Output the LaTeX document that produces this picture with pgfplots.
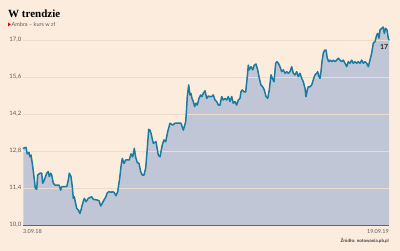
\documentclass[border=0pt]{standalone}
\usepackage{pgfplots}
\pgfplotsset{compat=1.18}
\usepackage{fontspec}
\setmainfont{Lato}
\newfontfamily\titlefont{Liberation Serif}
\definecolor{bg}{RGB}{252,236,222}
\definecolor{fillc}{RGB}{192,198,214}
\definecolor{linec}{RGB}{27,123,160}
\definecolor{gridc}{RGB}{236,220,206}
\definecolor{txt}{RGB}{90,90,90}
\begin{document}
\begin{tikzpicture}[x=1pt,y=1pt]
\fill[bg] (0,0) rectangle (400,251);
\node[anchor=base west,inner sep=0pt,font=\titlefont\bfseries\fontsize{11}{12}\selectfont,text=black] at (8,233) {W trendzie};
\fill[red!85!black] (8,224.5) -- (10.8,226.5) -- (8,228.5) -- cycle;
\node[anchor=base west,inner sep=0pt,font=\fontsize{5.5}{6}\selectfont,text=txt] at (11.5,224.5) {Ambra – kurs w zł};
\begin{axis}[
  at={(23pt,26pt)}, anchor=south west,
  scale only axis, width=366pt, height=203.5pt,
  xmin=23, xmax=389, ymin=10, ymax=17.7,
  axis x line*=bottom, axis y line*=left,
  x axis line style={draw=black!60, line width=0.6pt, -},
  y axis line style={draw=none},
  xtick=\empty,
  ytick={10,11.4,12.8,14.2,15.6,17},
  major tick length=0pt,
  yticklabel style={font=\fontsize{6}{7}\selectfont, text=txt, inner sep=1.5pt},
  /pgf/number format/assume math mode=true,
  yticklabel={\pgfmathprintnumber[fixed,fixed zerofill,precision=1,use comma]{\tick}},
  clip=false,
]
\addplot[fill=fillc, draw=none] table {
x y
23.3 12.90
26 12.94
27.3 12.69
29 12.74
30 12.58
31 12.65
32.3 12.33
34 11.83
35.3 11.39
36.7 11.35
37.7 11.89
40 11.96
41.7 11.96
42.7 11.58
44.3 11.70
46.7 11.96
48.3 12.02
49.3 11.83
50.7 11.96
51.7 11.89
53.3 11.58
55 11.51
56.7 11.51
59 11.51
60.7 11.32
61.7 11.45
63.3 11.45
66.7 11.45
68.3 11.70
69.3 11.96
71 11.83
72.3 11.45
73.3 11.01
74.3 11.07
75.3 10.88
76.7 10.63
78.3 10.57
80 10.44
81 10.57
82.7 10.82
84.3 11.01
86 10.88
88.3 11.01
91.7 11.07
93.3 10.97
96.7 10.95
99 10.92
100.7 10.72
102.3 10.82
104 10.95
105.7 11.05
107.3 11.22
109 11.26
111 11.24
112.7 11.26
114.3 11.22
116 11.11
117.7 11.26
119.7 11.77
121 12.21
122.3 12.52
124 12.33
125.7 12.46
127.3 12.46
129.3 12.46
131 12.69
132.7 12.58
134.3 12.90
135.7 12.56
137.3 12.36
139 12.33
140.7 12.02
142.3 11.89
144 11.89
145.7 12.15
147.3 12.90
148.7 13.62
150 13.59
151 13.47
153.3 13.09
156 13.15
158.3 12.65
160 12.58
162.3 13.03
164 13.22
165.7 13.15
167.7 13.53
170 13.85
172.7 13.78
175 13.85
178.3 13.85
181 13.85
183.3 13.59
185.7 13.91
186.5 14.35
187.3 14.86
188.7 15.30
190 14.92
191 14.98
192 14.79
193.3 14.67
194.7 14.48
196 14.61
197.3 14.54
199 14.79
200.7 14.92
202 14.86
203.3 14.98
205 15.08
206.7 14.79
208.3 14.88
210 14.86
211.7 14.86
213.3 14.92
215 14.73
216.7 14.67
218.3 14.54
220 14.54
221.7 14.86
223.3 14.73
225 14.79
226.7 14.73
228.3 14.86
230 14.67
231.7 14.86
233.3 14.61
235 14.67
236.7 14.54
238.3 14.73
240 14.79
241 15.04
242.3 15.11
244 15.04
245.7 15.04
247.3 15.61
248.3 16.05
249.3 15.87
251 15.99
252.7 15.87
254.3 16.05
256 16.09
257.7 15.87
259.3 15.55
261 15.30
262.7 15.23
264.3 15.11
266 14.86
267.7 14.79
269.3 15.11
271 15.68
272.3 15.55
274 15.42
275.7 16.12
277 16.18
278.3 16.12
280 15.99
281.7 15.80
283.3 15.87
285 15.74
286.7 15.80
288.3 15.74
290 15.80
291.7 15.99
293.3 15.74
295 15.68
296.7 15.80
298.3 15.61
300 15.74
301.7 15.55
303.3 15.42
305 15.17
306 14.86
307.3 15.11
308.3 15.23
310 15.23
311.7 15.30
313.3 15.49
315 15.68
316.7 15.74
317.7 15.80
319 15.61
320 15.55
321 15.80
322 16.18
323.3 16.50
324.7 16.62
326 16.62
327.3 16.31
328.7 16.18
330 16.24
331.7 16.18
333.3 16.24
335 16.18
336.7 16.24
338.3 16.31
340 16.24
341.7 16.18
343.3 16.24
345 16.12
346.7 15.99
348.3 16.18
350 16.12
351.7 16.24
353.3 16.12
355 16.18
356.7 16.12
358.3 16.18
360 16.12
361.7 16.24
363.3 16.12
365 16.18
366.7 16.12
368.3 15.99
370 16.24
371.7 16.50
373.3 16.88
375 16.94
376.7 17.19
377.7 17.25
379 17.07
380 17.38
381.7 17.44
383.3 17.49
384.3 17.25
385.7 17.44
387 17.38
388.3 17.07
389 17.00
} \closedcycle;
\foreach \g in {11.4,12.8,14.2,15.6,17} {
  \edef\tmp{\noexpand\draw[gridc, line width=0.6pt] (axis cs:23,\g) -- (axis cs:389,\g);}
  \tmp
}
\addplot[linec, line width=1.5pt, line join=round, line cap=round] table {
x y
23.3 12.90
26 12.94
27.3 12.69
29 12.74
30 12.58
31 12.65
32.3 12.33
34 11.83
35.3 11.39
36.7 11.35
37.7 11.89
40 11.96
41.7 11.96
42.7 11.58
44.3 11.70
46.7 11.96
48.3 12.02
49.3 11.83
50.7 11.96
51.7 11.89
53.3 11.58
55 11.51
56.7 11.51
59 11.51
60.7 11.32
61.7 11.45
63.3 11.45
66.7 11.45
68.3 11.70
69.3 11.96
71 11.83
72.3 11.45
73.3 11.01
74.3 11.07
75.3 10.88
76.7 10.63
78.3 10.57
80 10.44
81 10.57
82.7 10.82
84.3 11.01
86 10.88
88.3 11.01
91.7 11.07
93.3 10.97
96.7 10.95
99 10.92
100.7 10.72
102.3 10.82
104 10.95
105.7 11.05
107.3 11.22
109 11.26
111 11.24
112.7 11.26
114.3 11.22
116 11.11
117.7 11.26
119.7 11.77
121 12.21
122.3 12.52
124 12.33
125.7 12.46
127.3 12.46
129.3 12.46
131 12.69
132.7 12.58
134.3 12.90
135.7 12.56
137.3 12.36
139 12.33
140.7 12.02
142.3 11.89
144 11.89
145.7 12.15
147.3 12.90
148.7 13.62
150 13.59
151 13.47
153.3 13.09
156 13.15
158.3 12.65
160 12.58
162.3 13.03
164 13.22
165.7 13.15
167.7 13.53
170 13.85
172.7 13.78
175 13.85
178.3 13.85
181 13.85
183.3 13.59
185.7 13.91
186.5 14.35
187.3 14.86
188.7 15.30
190 14.92
191 14.98
192 14.79
193.3 14.67
194.7 14.48
196 14.61
197.3 14.54
199 14.79
200.7 14.92
202 14.86
203.3 14.98
205 15.08
206.7 14.79
208.3 14.88
210 14.86
211.7 14.86
213.3 14.92
215 14.73
216.7 14.67
218.3 14.54
220 14.54
221.7 14.86
223.3 14.73
225 14.79
226.7 14.73
228.3 14.86
230 14.67
231.7 14.86
233.3 14.61
235 14.67
236.7 14.54
238.3 14.73
240 14.79
241 15.04
242.3 15.11
244 15.04
245.7 15.04
247.3 15.61
248.3 16.05
249.3 15.87
251 15.99
252.7 15.87
254.3 16.05
256 16.09
257.7 15.87
259.3 15.55
261 15.30
262.7 15.23
264.3 15.11
266 14.86
267.7 14.79
269.3 15.11
271 15.68
272.3 15.55
274 15.42
275.7 16.12
277 16.18
278.3 16.12
280 15.99
281.7 15.80
283.3 15.87
285 15.74
286.7 15.80
288.3 15.74
290 15.80
291.7 15.99
293.3 15.74
295 15.68
296.7 15.80
298.3 15.61
300 15.74
301.7 15.55
303.3 15.42
305 15.17
306 14.86
307.3 15.11
308.3 15.23
310 15.23
311.7 15.30
313.3 15.49
315 15.68
316.7 15.74
317.7 15.80
319 15.61
320 15.55
321 15.80
322 16.18
323.3 16.50
324.7 16.62
326 16.62
327.3 16.31
328.7 16.18
330 16.24
331.7 16.18
333.3 16.24
335 16.18
336.7 16.24
338.3 16.31
340 16.24
341.7 16.18
343.3 16.24
345 16.12
346.7 15.99
348.3 16.18
350 16.12
351.7 16.24
353.3 16.12
355 16.18
356.7 16.12
358.3 16.18
360 16.12
361.7 16.24
363.3 16.12
365 16.18
366.7 16.12
368.3 15.99
370 16.24
371.7 16.50
373.3 16.88
375 16.94
376.7 17.19
377.7 17.25
379 17.07
380 17.38
381.7 17.44
383.3 17.49
384.3 17.25
385.7 17.44
387 17.38
388.3 17.07
389 17.00
};
\node[anchor=north east, inner sep=1pt, font=\bfseries\fontsize{7}{8}\selectfont, text=black!85] at (axis cs:389.5,16.88) {17};
\node[anchor=north west, inner sep=0pt, font=\fontsize{5.5}{6}\selectfont, text=txt] at (rel axis cs:0,0) [yshift=-4pt] {3.09.18};
\node[anchor=north east, inner sep=0pt, font=\fontsize{5.5}{6}\selectfont, text=txt] at (rel axis cs:1,0) [yshift=-4pt] {19.09.19};
\node[anchor=north east, inner sep=0pt, font=\bfseries\fontsize{4.5}{5}\selectfont, text=black!75] at (rel axis cs:1,0) [yshift=-13pt] {Źródło: notowania.pb.pl};
\end{axis}
\end{tikzpicture}
\end{document}
